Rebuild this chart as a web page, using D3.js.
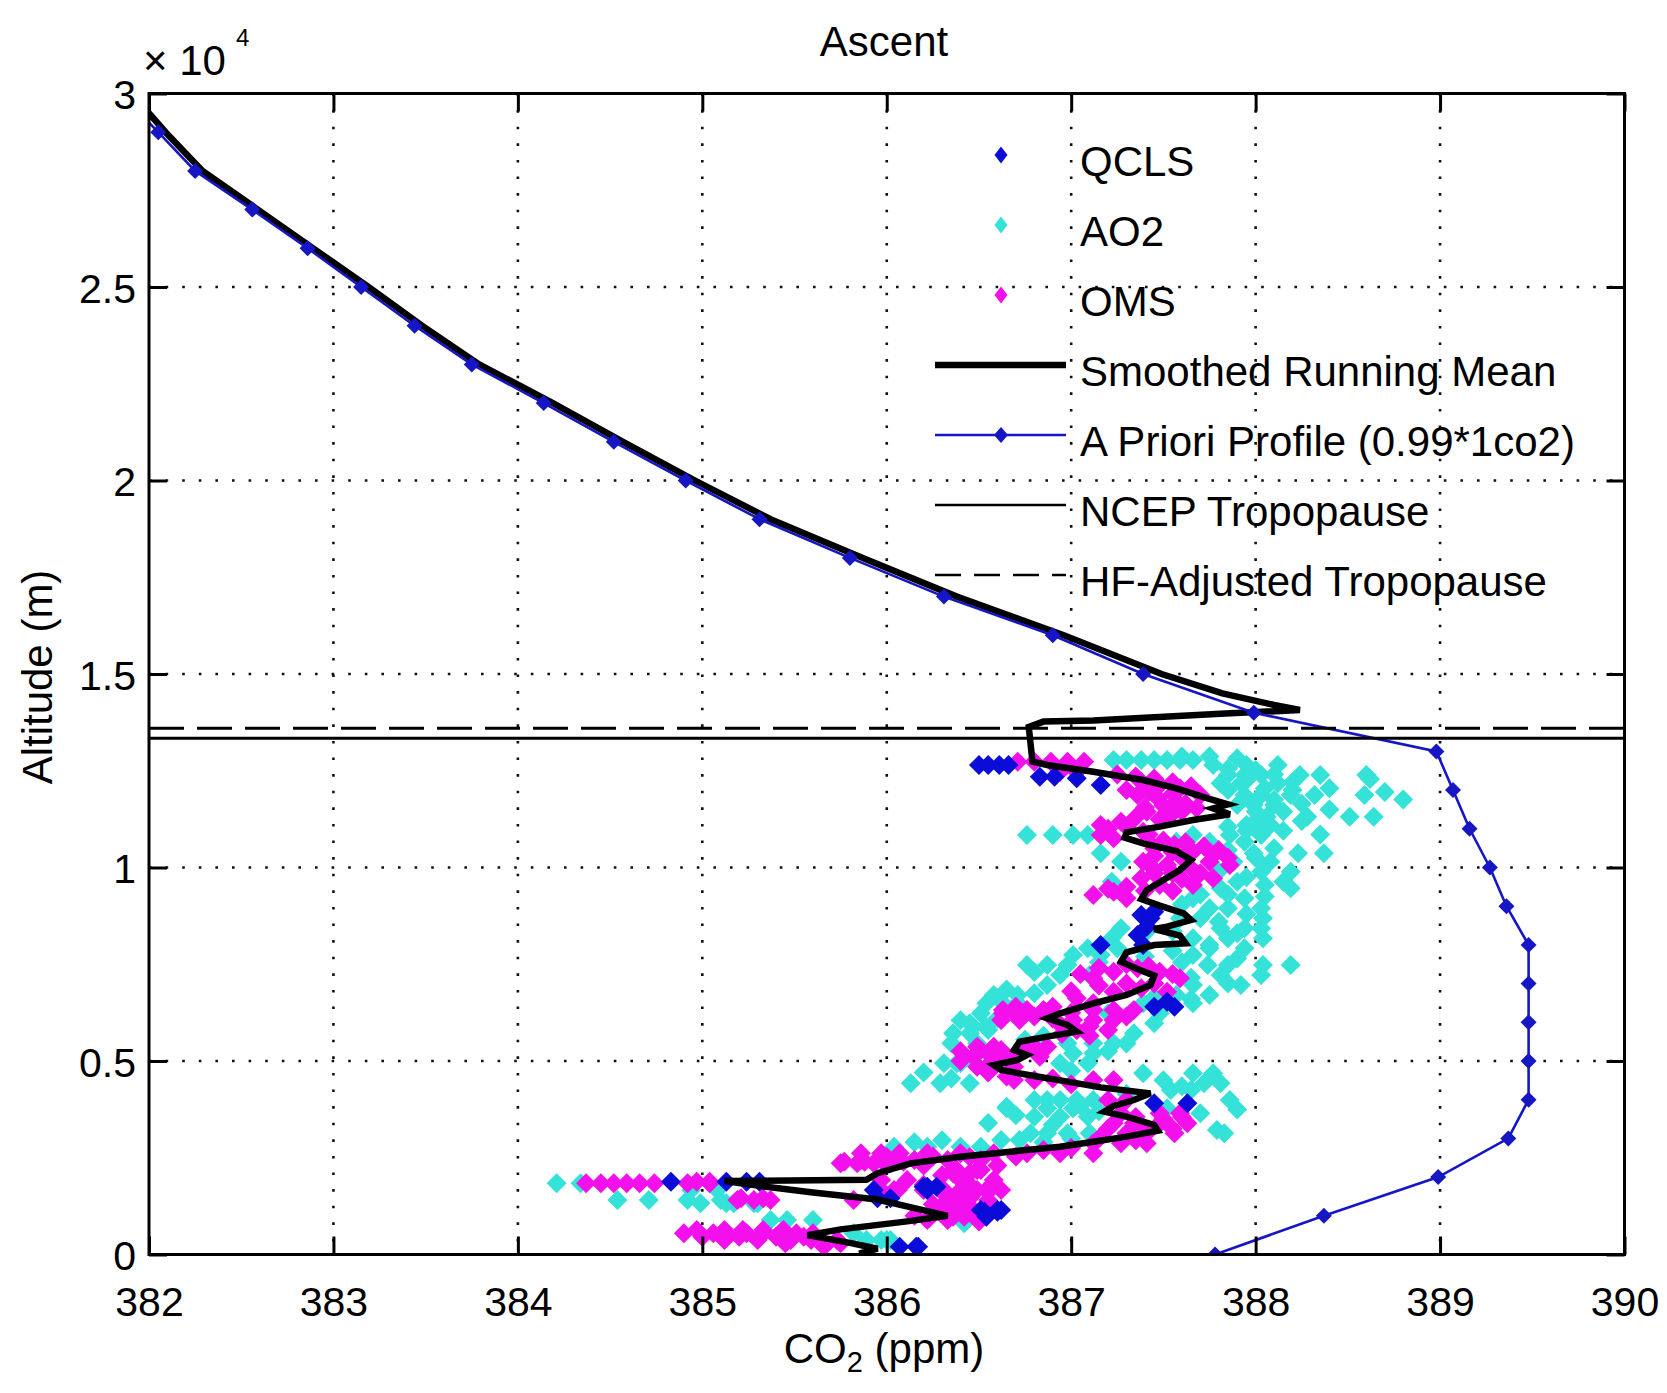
<!DOCTYPE html>
<html>
<head>
<meta charset="utf-8">
<script src="https://cdn.jsdelivr.net/npm/d3@7"></script>
<style>
  body { margin: 0; background: #fff; }
  svg { display: block; font-family: "Liberation Sans", Arial, Helvetica, sans-serif; }
</style>
</head>
<body>
<svg id="chart"></svg>
<script>
const width  = 1667,
      height = 1393,
      margin = {top: 93.5, right: 42.5, bottom: 138.5, left: 149},
      fontSize = 42,
      tickFontSize = 41;

// axis ticks
const xTicks = [382, 383, 384, 385, 386, 387, 388, 389, 390];
const yTicks = [0, 5000, 10000, 15000, 20000, 25000, 30000];

// a priori profile, one level every 1000 m
const aprioriAlt = [0, 1000, 2000, 3000, 4000, 5000, 6000, 7000, 8000, 9000, 10000,
                    11000, 12000, 13000, 14000, 15000, 16000, 17000, 18000, 19000, 20000,
                    21000, 22000, 23000, 24000, 25000, 26000, 27000, 28000, 29000, 30000];
const aprioriCO2 = [387.78, 388.37, 388.99, 389.37, 389.48, 389.48, 389.48, 389.48, 389.48, 389.36, 389.27,
                    389.16, 389.07, 388.98, 387.99, 387.39, 386.90, 386.31, 385.80, 385.31, 384.91,
                    384.52, 384.14, 383.75, 383.44, 383.15, 382.86, 382.56, 382.25, 382.05, 381.85];

// tropopause heights (m)
const ncepTropopause = 13340;
const hfTropopause   = 13600;

// smoothed running mean [co2, alt], top of the profile downwards
const smoothedMean = [
  [381.98, 29600], [382.09, 29000], [382.29, 28000], [382.59, 27000], [382.89, 26000],
  [383.19, 25000], [383.48, 24000], [383.79, 23000], [384.19, 22000], [384.57, 21000],
  [384.96, 20000], [385.37, 19000], [385.87, 18000], [386.38, 17000], [386.96, 16000],
  [387.49, 15000], [387.82, 14500], [388.10, 14200], [388.24, 14070], [387.81, 13970],
  [387.45, 13880], [387.12, 13800], [386.85, 13770], [386.77, 13630], [386.79, 12734],
  [386.87, 12648], [387.12, 12476], [387.39, 12261], [387.57, 12045], [387.74, 11787],
  [387.85, 11632], [387.77, 11529], [387.86, 11374], [387.66, 11227], [387.48, 11055],
  [387.30, 10908], [387.29, 10771], [387.39, 10624], [387.57, 10426], [387.65, 10194],
  [387.59, 9935], [387.50, 9677], [387.41, 9418], [387.38, 9186], [387.48, 9014],
  [387.61, 8816], [387.65, 8643], [387.52, 8471], [387.45, 8411], [387.59, 8238],
  [387.62, 8041], [387.45, 7997], [387.30, 7808], [387.27, 7567], [387.36, 7377],
  [387.45, 7205], [387.43, 6964], [387.30, 6705], [387.12, 6490], [386.94, 6231],
  [386.87, 6102], [386.98, 5930], [387.03, 5758], [386.87, 5629], [386.72, 5499],
  [386.69, 5284], [386.76, 5155], [386.71, 5026], [386.58, 4896], [386.62, 4767],
  [386.80, 4612], [386.98, 4466], [387.16, 4319], [387.43, 4164], [387.34, 3992],
  [387.23, 3837], [387.18, 3691], [387.30, 3561], [387.45, 3346], [387.47, 3200],
  [387.30, 3045], [387.12, 2915], [386.94, 2786], [386.67, 2657], [386.40, 2528],
  [386.13, 2356], [385.95, 2100], [385.89, 1930], [385.12, 1900], [385.30, 1780],
  [385.60, 1600], [385.95, 1420], [386.15, 1200], [386.33, 1000], [386.10, 850],
  [385.75, 650], [385.57, 500], [385.80, 300], [385.95, 150], [385.85, 20]
];

// QCLS [co2, alt]
const qcls = [
  [386.50, 12648], [386.55, 12648], [386.61, 12648], [386.66, 12648], [386.83, 12347],
  [386.91, 12347], [387.03, 12304], [387.16, 12131], [387.45, 8858], [387.38, 8772],
  [387.43, 8686], [387.41, 8471], [387.36, 8256], [387.16, 7997], [387.39, 7997],
  [387.52, 6533], [387.45, 6404], [387.56, 6404], [387.45, 3906], [387.63, 3906],
  [386.22, 1753], [386.51, 1150], [386.62, 1150], [386.54, 978], [386.07, 202],
  [386.16, 202], [384.83, 1882], [385.13, 1882], [385.24, 1882], [385.31, 1882],
  [385.93, 1667], [386.22, 1667], [386.60, 1150], [386.20, 1753], [386.27, 1753],
  [385.95, 1452], [386.02, 1452], [386.53, 1107], [386.60, 1107], [386.17, 203]
];

// AO2 [co2, alt]
const ao2 = [
  [387.23, 12777], [387.30, 12777], [387.38, 12777], [387.45, 12777], [387.52, 12777],
  [387.59, 12777], [387.66, 12777], [387.77, 12648], [388.12, 12648], [387.85, 12390],
  [387.94, 12390], [388.03, 12390], [388.24, 12390], [388.35, 12390], [388.60, 12390],
  [387.81, 12175], [387.92, 12175], [388.12, 12175], [387.94, 11873], [388.03, 11873],
  [388.19, 11873], [388.32, 11873], [388.59, 11873], [387.90, 11615], [387.99, 11615],
  [388.10, 11615], [388.06, 11313], [388.28, 11313], [388.51, 11313], [388.64, 11313],
  [387.95, 11098], [388.08, 11098], [386.76, 10840], [386.90, 10840], [387.01, 10840],
  [387.09, 10840], [387.66, 10840], [387.86, 10840], [388.03, 10840], [387.57, 10667],
  [387.75, 10667], [387.94, 10667], [387.16, 10366], [387.99, 10366], [388.23, 10366],
  [388.37, 10366], [387.27, 10150], [387.88, 10150], [388.08, 10150], [388.03, 9892],
  [388.19, 9892], [387.22, 9634], [387.90, 9634], [388.15, 9634], [387.81, 9461],
  [388.19, 9461], [387.66, 9203], [387.94, 9203], [387.75, 8945], [387.85, 8945],
  [388.03, 8945], [387.59, 8686], [387.70, 8686], [388.04, 8686], [387.27, 8428],
  [387.81, 8428], [387.94, 8428], [388.03, 8428], [387.22, 8169], [387.66, 8169],
  [387.85, 8169], [388.04, 8169], [387.09, 7911], [387.25, 7911], [387.75, 7911],
  [387.94, 7911], [387.01, 7739], [387.16, 7739], [387.66, 7739], [386.76, 7480],
  [386.87, 7480], [386.98, 7480], [387.74, 7480], [387.85, 7480], [388.04, 7480],
  [388.19, 7480], [386.94, 7222], [387.10, 7222], [387.81, 7222], [388.03, 7222],
  [386.87, 6964], [387.66, 6964], [387.92, 6964], [386.58, 6705], [386.71, 6705],
  [387.57, 6705], [387.75, 6705], [388.80, 11760], [388.70, 11950], [388.62, 12290],
  [386.54, 6490], [386.63, 6490], [386.71, 6490], [387.39, 6490], [387.48, 6490],
  [387.66, 6490], [386.51, 6231], [387.20, 6231], [387.32, 6231], [387.48, 6231],
  [386.45, 5973], [387.45, 5973], [386.36, 5715], [386.45, 5715], [387.34, 5715],
  [386.35, 5456], [386.49, 5456], [386.98, 5456], [387.12, 5456], [387.23, 5456],
  [387.01, 5198], [387.12, 5198], [386.31, 4940], [386.40, 4940], [386.94, 4940],
  [387.09, 4940], [387.39, 4681], [387.66, 4681], [387.77, 4681], [386.13, 4423],
  [386.29, 4423], [386.45, 4423], [387.72, 4423], [387.81, 4423], [387.54, 4250],
  [387.65, 4250], [386.80, 3992], [386.87, 3992], [386.94, 3992], [387.03, 3992],
  [387.12, 3992], [387.86, 3992], [386.65, 3777], [386.87, 3777], [387.01, 3777],
  [387.52, 3777], [386.80, 3561], [386.94, 3561], [387.09, 3561], [387.79, 3217],
  [386.78, 3131], [386.87, 3131], [386.98, 3131], [387.10, 3131], [387.83, 3131],
  [386.62, 2959], [386.72, 2959], [386.04, 2786], [386.22, 2786], [386.40, 2786],
  [386.51, 2786], [386.36, 1408], [385.89, 375], [385.97, 375], [384.21, 1839],
  [384.34, 1839], [384.54, 1408], [384.71, 1408], [384.92, 1408], [385.10, 1408],
  [385.17, 1322], [385.28, 1322], [385.37, 891], [385.46, 891], [385.82, 547],
  [386.00, 375], [386.38, 4940], [386.47, 5887], [386.54, 5887], [386.65, 3820],
  [386.06, 2614], [384.94, 1667], [385.08, 1667], [384.99, 1322], [385.13, 1322],
  [385.30, 1322], [385.60, 892], [386.42, 806], [386.02, 375],
  [387.60, 12870], [387.75, 12870], [387.90, 12820], [387.95, 12650], [387.85, 12550],
  [388.00, 12520], [388.10, 12400], [387.95, 12250], [388.20, 12200], [388.05, 12050],
  [387.85, 12000], [388.20, 12000], [388.40, 12050], [388.10, 11750], [388.25, 11650],
  [388.40, 11500], [388.00, 11450], [388.15, 11450], [388.25, 11200], [388.00, 11200],
  [387.85, 11050], [388.15, 10950], [388.35, 10850], [387.95, 10950], [387.85, 10450],
  [388.10, 10500], [388.00, 10250], [387.80, 9900], [387.95, 9750], [388.05, 9550],
  [387.70, 9300], [387.85, 9300], [388.05, 9250], [387.60, 9050], [387.95, 8800],
  [387.80, 8600], [387.90, 8300], [387.55, 8350], [387.40, 8300], [387.75, 8000],
  [387.55, 7850], [387.40, 7700], [387.90, 7650], [387.60, 7550], [387.15, 7550],
  [386.80, 7300], [387.65, 7150], [387.85, 7000], [387.45, 6650], [387.65, 6600],
  [386.65, 6850], [386.80, 6750], [386.60, 6100], [386.40, 6050], [386.55, 5800],
  [386.75, 5550], [386.85, 5650], [387.30, 5450], [387.20, 5250], [386.20, 4700],
  [386.35, 4550], [387.00, 4750], [387.50, 4500], [387.60, 4350], [387.30, 4150],
  [387.05, 3850], [387.15, 3700], [386.70, 3600], [386.55, 3400], [386.90, 3350],
  [387.70, 3650], [387.90, 3750], [387.00, 3000], [386.85, 2900], [386.30, 2950],
  [386.15, 2900]
];

// OMS [co2, alt]
const oms = [
  [386.71, 12734], [386.80, 12734], [386.89, 12734], [386.98, 12734], [387.07, 12734],
  [386.94, 12476], [387.03, 12476], [387.38, 12218], [387.48, 12131], [387.59, 12045],
  [387.70, 11873], [387.36, 11873], [387.47, 11787], [387.57, 11701], [387.68, 11529],
  [387.41, 11442], [387.54, 11356], [387.16, 11098], [387.27, 11184], [387.23, 10753],
  [387.39, 10926], [387.16, 10840], [387.45, 10495], [387.56, 10581], [387.66, 10409],
  [387.77, 10323], [387.86, 10064], [387.39, 10150], [387.52, 10064], [387.65, 9978],
  [387.77, 9720], [387.38, 9720], [387.48, 9548], [387.66, 9548], [387.12, 9289],
  [387.23, 9375], [387.30, 9203], [387.12, 7136], [387.23, 7308], [387.36, 7394],
  [387.48, 7308], [387.59, 7136], [387.23, 6791], [387.38, 6877], [387.52, 6791],
  [387.03, 6619], [387.12, 6490], [386.63, 6318], [386.76, 6318], [386.85, 6318],
  [387.12, 6318], [387.23, 6318], [387.34, 6318], [386.62, 6059], [386.72, 6059],
  [387.01, 6059], [387.12, 6059], [387.23, 6059], [387.03, 5801], [387.20, 5801],
  [386.49, 5370], [386.58, 5370], [386.80, 5370], [386.87, 5370], [386.47, 5112],
  [386.62, 5112], [386.83, 5112], [386.49, 4853], [386.69, 4853], [386.69, 4509],
  [386.80, 4509], [387.12, 4509], [387.23, 4509], [387.20, 3992], [387.30, 3992],
  [387.27, 3648], [387.48, 3648], [387.59, 3648], [387.23, 3389], [387.34, 3389],
  [387.48, 3389], [387.63, 3389], [387.30, 3131], [387.41, 3131], [387.56, 3131],
  [387.12, 2872], [387.27, 2872], [387.41, 2872], [385.86, 2614], [385.97, 2614],
  [386.07, 2614], [386.22, 2614], [386.40, 2614], [386.58, 2614], [386.76, 2614],
  [386.94, 2614], [387.12, 2614], [385.86, 2442], [386.00, 2442], [386.15, 2442],
  [386.33, 2442], [386.51, 2442], [386.36, 2183], [386.51, 2183], [385.97, 1925],
  [386.11, 1925], [386.40, 1925], [386.58, 1925], [386.04, 1667], [386.29, 1667],
  [386.40, 1667], [386.54, 1667], [386.62, 1667], [386.29, 1150], [386.40, 1150],
  [386.22, 892], [386.33, 892], [384.37, 1839], [384.45, 1839], [384.52, 1839],
  [384.59, 1839], [384.66, 1839], [384.74, 1839], [384.92, 1839], [385.04, 1839],
  [385.75, 2356], [385.84, 2356], [385.93, 2356], [386.02, 2356], [386.36, 2097],
  [386.45, 2097], [385.97, 1667], [386.49, 1667], [385.19, 1408], [385.28, 1408],
  [385.37, 1408], [385.82, 1408], [386.33, 1408], [386.36, 978], [386.42, 978],
  [384.90, 547], [385.06, 547], [385.13, 547], [385.24, 547], [385.33, 547],
  [385.42, 547], [385.51, 547], [385.60, 547], [385.73, 375], [386.63, 6231],
  [386.74, 6231], [386.51, 5284], [386.62, 5284], [386.54, 4853], [385.77, 2399],
  [385.88, 2399], [385.98, 2399], [386.09, 2399], [386.38, 2184], [386.49, 2184],
  [384.97, 1882], [385.04, 1882], [385.95, 1667], [386.06, 1667], [386.20, 1667],
  [386.31, 1667], [386.44, 1667], [386.56, 1667], [385.21, 1452], [385.33, 1452],
  [386.35, 1452], [386.45, 1452], [386.35, 1150], [386.47, 1150], [386.56, 1150],
  [384.97, 634], [385.12, 634], [385.22, 634], [385.33, 634], [385.44, 634],
  [385.12, 375], [385.30, 375], [385.48, 375], [385.59, 375], [385.66, 203],
  [387.25, 12400], [387.35, 12350], [387.45, 12300], [387.55, 12200], [387.65, 12100],
  [387.30, 12000], [387.42, 11950], [387.55, 11900], [387.62, 11650], [387.50, 11600],
  [387.40, 11550], [387.60, 11450], [387.48, 11250], [387.35, 11300], [387.20, 11000],
  [387.30, 11050], [387.42, 10850], [387.50, 10700], [387.62, 10650], [387.72, 10550],
  [387.80, 10450], [387.55, 10400], [387.45, 10300], [387.60, 10250], [387.75, 10150],
  [387.85, 10250], [387.45, 9950], [387.55, 9850], [387.70, 9850], [387.60, 9700],
  [387.45, 9850], [387.30, 9500], [387.20, 9450], [387.40, 9400], [387.55, 9400],
  [387.05, 7250], [387.15, 7400], [387.30, 7500], [387.42, 7450], [387.55, 7250],
  [387.45, 7000], [387.30, 7000], [387.15, 6950], [387.00, 6800], [386.70, 6400],
  [386.90, 6400], [387.00, 6250], [386.90, 6100], [386.80, 6150], [386.70, 6200],
  [387.30, 6150], [386.95, 5900], [387.10, 5900], [386.95, 5700], [387.10, 5650],
  [386.40, 5250], [386.55, 5200], [386.70, 5150], [386.60, 4950], [386.40, 5000],
  [386.75, 5300], [386.55, 4700], [386.65, 4600], [386.90, 4550], [387.00, 4400],
  [387.35, 3550], [387.50, 3500], [387.60, 3550], [387.40, 3250], [387.55, 3250],
  [387.20, 3250], [387.15, 3000], [387.35, 2950], [386.00, 2520], [386.25, 2530],
  [386.45, 2520], [386.70, 2530], [386.85, 2700], [387.00, 2750], [386.20, 2300],
  [386.60, 2300], [386.30, 2050], [386.20, 1800], [386.45, 1800], [386.55, 1400],
  [386.40, 1300], [386.25, 1300], [386.50, 850], [386.15, 1000], [385.00, 460],
  [385.20, 460], [385.40, 460], [385.55, 460], [385.75, 290], [385.45, 290]
];

const colors = {qcls: "#0c0cd8", ao2: "#34e2d8", oms: "#f410ec", apriori: "#1616c4"};

const svg = d3.select("#chart").attr("width", width).attr("height", height);

const x = d3.scaleLinear().domain([382, 390]).range([margin.left, width - margin.right]);
const y = d3.scaleLinear().domain([0, 30000]).range([height - margin.bottom, margin.top]);

const diamond = (w, h) => `M0,${-h}L${w},0L0,${h}L${-w},0Z`;

svg.append("defs").append("clipPath").attr("id", "plot-clip")
  .append("rect")
  .attr("x", x(382)).attr("y", y(30000))
  .attr("width", x(390) - x(382)).attr("height", y(0) - y(30000));

// dotted grid
const grid = svg.append("g").attr("class", "grid")
  .attr("stroke", "#111").attr("stroke-width", 2.6).attr("stroke-dasharray", "2.6,14");

grid.selectAll(".vgrid").data(xTicks.slice(1, -1)).join("line")
  .attr("x1", d => x(d)).attr("x2", d => x(d))
  .attr("y1", y(30000)).attr("y2", y(0));

grid.selectAll(".hgrid").data(yTicks.slice(1, -1)).join("line")
  .attr("x1", x(382)).attr("x2", x(390))
  .attr("y1", d => y(d)).attr("y2", d => y(d));

const plot = svg.append("g").attr("clip-path", "url(#plot-clip)");

function scatter(data, color, w, h) {
  plot.append("g").selectAll("path").data(data).join("path")
    .attr("d", diamond(w, h))
    .attr("transform", d => `translate(${x(d[0])},${y(d[1])})`)
    .attr("fill", color);
}

scatter(ao2, colors.ao2, 10, 10);
scatter(oms, colors.oms, 10, 10);
scatter(qcls, colors.qcls, 10, 10);

// smoothed running mean
plot.append("path")
  .datum(smoothedMean)
  .attr("fill", "none")
  .attr("stroke", "#000")
  .attr("stroke-width", 6.5)
  .attr("d", d3.line().x(d => x(d[0])).y(d => y(d[1])));

// a priori profile
const apriori = aprioriAlt.map((a, i) => [aprioriCO2[i], a]);

plot.append("path")
  .datum(apriori)
  .attr("fill", "none")
  .attr("stroke", colors.apriori)
  .attr("stroke-width", 2.6)
  .attr("d", d3.line().x(d => x(d[0])).y(d => y(d[1])));

plot.append("g").selectAll("path").data(apriori).join("path")
  .attr("d", diamond(8, 8))
  .attr("transform", d => `translate(${x(d[0])},${y(d[1])})`)
  .attr("fill", colors.apriori);

// tropopause lines
plot.append("line")
  .attr("x1", x(382)).attr("x2", x(390))
  .attr("y1", y(ncepTropopause)).attr("y2", y(ncepTropopause))
  .attr("stroke", "#000").attr("stroke-width", 3);

plot.append("line")
  .attr("x1", x(382)).attr("x2", x(390))
  .attr("y1", y(hfTropopause)).attr("y2", y(hfTropopause))
  .attr("stroke", "#000").attr("stroke-width", 3)
  .attr("stroke-dasharray", "35,13");

// axes: ticks point inwards on all four sides
const tickLen = 18;

const xAxis = svg.append("g")
  .attr("transform", `translate(0,${y(0)})`)
  .call(d3.axisBottom(x).tickValues(xTicks).tickSizeInner(-tickLen).tickSizeOuter(0).tickFormat(d3.format("d")));

xAxis.selectAll("text")
  .attr("y", 61).attr("dy", null)
  .attr("font-size", tickFontSize).attr("fill", "#000");

const yAxis = svg.append("g")
  .attr("transform", `translate(${x(382)},0)`)
  .call(d3.axisLeft(y).tickValues(yTicks).tickSizeInner(-tickLen).tickSizeOuter(0).tickFormat(d => d / 1e4));

yAxis.selectAll("text")
  .attr("x", -13).attr("y", 15).attr("dy", null)
  .attr("font-size", tickFontSize).attr("fill", "#000");

svg.append("g")
  .attr("transform", `translate(0,${y(30000)})`)
  .call(d3.axisTop(x).tickValues(xTicks).tickSizeInner(-tickLen).tickSizeOuter(0).tickFormat(""));

svg.append("g")
  .attr("transform", `translate(${x(390)},0)`)
  .call(d3.axisRight(y).tickValues(yTicks).tickSizeInner(-tickLen).tickSizeOuter(0).tickFormat(""));

svg.selectAll(".domain").remove();
svg.selectAll(".tick line").attr("stroke", "#000").attr("stroke-width", 3);

svg.append("rect")
  .attr("x", x(382)).attr("y", y(30000))
  .attr("width", x(390) - x(382)).attr("height", y(0) - y(30000))
  .attr("fill", "none").attr("stroke", "#000").attr("stroke-width", 3);

// exponent label
svg.append("text")
  .attr("x", 143).attr("y", 75)
  .attr("font-size", fontSize)
  .text("\u00d7 10");

svg.append("text")
  .attr("x", 236).attr("y", 46)
  .attr("font-size", 24)
  .text("4");

// title and axis labels
svg.append("text")
  .attr("x", 884).attr("y", 56)
  .attr("text-anchor", "middle")
  .attr("font-size", fontSize)
  .text("Ascent");

svg.append("text")
  .attr("transform", "translate(52,677) rotate(-90)")
  .attr("text-anchor", "middle")
  .attr("font-size", fontSize)
  .text("Altitude (m)");

const xLabel = svg.append("text")
  .attr("x", 884).attr("y", 1363)
  .attr("text-anchor", "middle")
  .attr("font-size", fontSize);
xLabel.append("tspan").text("CO");
xLabel.append("tspan").attr("font-size", 29).attr("dy", 9).text("2");
xLabel.append("tspan").attr("dy", -9).text(" (ppm)");

// legend, no box
const legendItems = [
  {label: "QCLS", type: "marker", color: colors.qcls},
  {label: "AO2", type: "marker", color: colors.ao2},
  {label: "OMS", type: "marker", color: colors.oms},
  {label: "Smoothed Running Mean", type: "line", color: "#000", width: 6.5},
  {label: "A Priori Profile (0.99*1co2)", type: "lineMarker", color: colors.apriori, width: 2.6},
  {label: "NCEP Tropopause", type: "line", color: "#000", width: 2.6},
  {label: "HF-Adjusted Tropopause", type: "dash", color: "#000", width: 2.6}
];

const legend = svg.append("g").attr("class", "legend");

const rows = legend.selectAll(".row").data(legendItems).join("g")
  .attr("class", "row")
  .attr("transform", (d, i) => `translate(0,${155 + i * 70})`);

rows.filter(d => d.type !== "marker").append("line")
  .attr("x1", 935).attr("x2", 1066)
  .attr("stroke", d => d.color)
  .attr("stroke-width", d => d.width)
  .attr("stroke-dasharray", d => d.type === "dash" ? "26,13" : null);

rows.filter(d => d.type === "marker" || d.type === "lineMarker").append("path")
  .attr("transform", "translate(1001,0)")
  .attr("d", d => d.type === "marker" ? diamond(6.5, 8.5) : diamond(7, 8))
  .attr("fill", d => d.color);

rows.append("text")
  .attr("x", 1080).attr("y", 21)
  .attr("font-size", fontSize)
  .text(d => d.label);
</script>
</body>
</html>
